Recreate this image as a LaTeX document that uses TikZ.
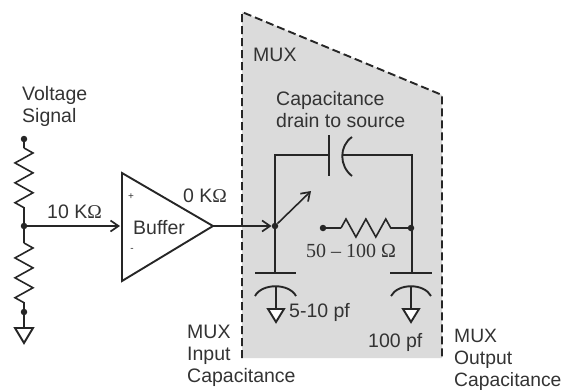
\documentclass[tikz,border=0pt]{standalone}
\usepackage{fontspec}
\setmainfont{Liberation Sans}
\newfontfamily\serifmark{Liberation Serif}
\usetikzlibrary{positioning,calc,arrows.meta,decorations.pathmorphing}
\tikzset{
	font=\fontsize{19.5}{22}\selectfont,
	wire/.style={line width=1.6pt, draw=black!85},
	plate/.style={line width=1.9pt, draw=black!85},
	flow/.style={wire, -{Straight Barb[length=8pt,width=11pt,line width=1.7pt]}},
	dot/.style={circle, fill=black!85, inner sep=0pt, minimum size=6.5pt},
	zig/.style={wire, decorate, decoration={zigzag, segment length=19.9pt, amplitude=9pt}},
	label/.style={align=left, inner sep=0pt, anchor=north west, text=black!80},
	gnd/.style={plate, fill=white}
}
\newcommand{\ohmsign}{{\serifmark Ω}}
\begin{document}
\begin{tikzpicture}[x=1pt, y=-1pt]
	\useasboundingbox (0, 0) rectangle (564, 391);
	\begin{scope}
		\fill[black!14] (242, 12) -- (442, 95) -- (442, 358) -- (242, 358) -- cycle;
		\draw[line width=1.9pt, dash pattern=on 8pt off 4pt, black!85] (242, 358) -- (242, 12) -- (442, 95) -- (442, 358);

		% nodes
		\node[dot] (vin) at (24, 139) {};
		\node[dot] (mid) at (24, 226) {};
		\node[dot] (low) at (24, 312) {};
		\node[dot] (inp) at (275, 226) {};
		\node[dot] (rl) at (323, 228) {};
		\node[dot] (rr) at (411, 228) {};
		\coordinate (bufa) at (122, 173);
		\coordinate (bufb) at (122, 281);
		\coordinate (bufo) at (213, 226);
		\coordinate (bufi) at (120, 226);
		\coordinate (sw) at (311, 191);
		\coordinate (tl) at (275, 155);
		\coordinate (tr) at (412, 155);
		\coordinate (pa) at (329, 155);
		\coordinate (pb) at (342, 155);
		\coordinate (bl) at (275, 273);
		\coordinate (br) at (412, 273);
		\coordinate (gl) at (276, 286);
		\coordinate (gr) at (411, 286);
		\coordinate (gv) at (24, 328);
		\coordinate (r1a) at (24, 148);
		\coordinate (r1b) at (24, 208);
		\coordinate (r2a) at (24, 243);
		\coordinate (r2b) at (24, 303);
		\coordinate (r3a) at (341, 228);
		\coordinate (r3b) at (400, 228);

		% resistors
		\draw[wire] (vin) -- (r1a);
		\draw[wire] (mid) -- (r1b);
		\draw[zig] (r1a) -- (r1b);
		\draw[wire] (mid) -- (r2a);
		\draw[wire] (low) -- (r2b);
		\draw[zig] (r2a) -- (r2b);
		\draw[wire] (rl) -- (r3a);
		\draw[wire] (rr) -- (r3b);
		\draw[zig] (r3a) -- (r3b);

		% buffer
		\draw[plate] (bufa) -- (bufb) -- (bufo) -- cycle;
		\draw[flow] (mid) -- (bufi);
		\draw[flow] (bufo) -- (inp);

		% mux wires
		\draw[wire] (bl) -- (tl) -- (pa);
		\draw[wire] (pb) -- (tr) -- (br);
		\draw[plate] (329, 135) -- (329, 176);
		\draw[plate] (352, 137) .. controls (339, 146) and (339, 166) .. (352, 176);
		\draw[flow] (inp) -- (sw);

		% output capacitors
		\draw[plate] (255, 273) -- (296, 273);
		\draw[plate] (390, 273) -- (432, 273);
		\draw[plate] (255, 296) .. controls (262, 283) and (289, 283) .. (296, 296);
		\draw[plate] (391, 296) .. controls (398, 283) and (424, 283) .. (431, 296);
		\draw[wire] (gl) -- (276, 310);
		\draw[wire] (gr) -- (411, 310);
		\draw[gnd] (268, 309) -- (284, 309) -- (276, 322) -- cycle;
		\draw[gnd] (403, 309) -- (419, 309) -- (411, 322) -- cycle;
		\draw[wire] (low) -- (gv);
		\draw[gnd] (15, 328) -- (33, 328) -- (24, 343) -- cycle;

		% labels
		\node[label] (sig) at (22, 86) {Voltage\\Signal};
		\node[label] (rin) at (47, 205) {10 K\ohmsign};
		\node[label] (rout) at (183, 189) {0 K\ohmsign};
		\node[label] (buf) at (133, 220) {Buffer};
		\node[label, font=\fontsize{10}{10}\selectfont, anchor=center] (plus) at (131, 197) {+};
		\node[label, font=\fontsize{10}{10}\selectfont, anchor=center] (minus) at (132, 250) {-};
		\node[label] (mux) at (253, 48) {MUX};
		\node[label] (cds) at (276, 91) {Capacitance\\drain to source};
		\node[label, font=\serifmark\fontsize{20}{20}\selectfont] (ron) at (306, 244) {50 – 100 Ω};
		\node[label] (cin) at (289, 303) {5-10 pf};
		\node[label] (cout) at (368, 333) {100 pf};
		\node[label] (muxi) at (187, 325) {MUX\\Input\\Capacitance};
		\node[label, font=\fontsize{19.3}{22}\selectfont] (muxo) at (454, 329) {MUX\\Output\\Capacitance};
	\end{scope}
\end{tikzpicture}
\end{document}
